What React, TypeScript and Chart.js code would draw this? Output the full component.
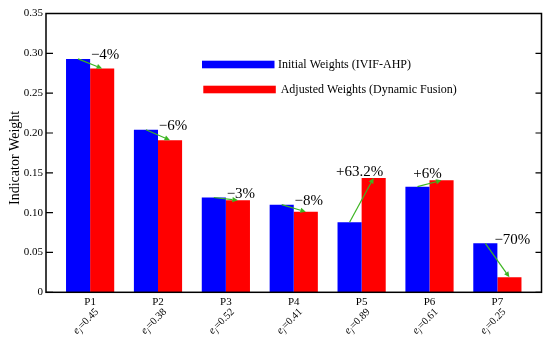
import React, { useEffect, useRef } from 'react';
import { Chart, registerables } from 'chart.js';

Chart.register(...registerables);

const CATEGORIES = ['P1', 'P2', 'P3', 'P4', 'P5', 'P6', 'P7'];
const ENTROPY = ['0.45', '0.38', '0.52', '0.41', '0.89', '0.61', '0.25'];
const INITIAL = [0.293, 0.204, 0.119, 0.11, 0.088, 0.1326, 0.0615];
const ADJUSTED = [0.281, 0.191, 0.1155, 0.101, 0.1435, 0.1406, 0.0188];
const CHANGE_LABELS = ['\u22124%', '\u22126%', '\u22123%', '\u22128%', '+63.2%', '+6%', '\u221270%'];
const Y_TICKS = [0, 0.05, 0.1, 0.15, 0.2, 0.25, 0.3, 0.35];
const SERIES_NAMES = ['Initial Weights (IVIF-AHP)', 'Adjusted Weights (Dynamic Fusion)'];
const SERIES_COLORS = ['#0000ff', '#ff0000'];
const Y_TITLE = 'Indicator Weight';

const SERIF = '"Liberation Serif", "Times New Roman", serif';
const ARROW = '#3cb521';

const overlay = {
  id: 'overlay',
  afterDatasetsDraw(chart: any) {
    const { ctx, chartArea: a, scales } = chart;
    const xs = scales.x;
    const m0 = chart.getDatasetMeta(0);
    const m1 = chart.getDatasetMeta(1);
    ctx.save();

    // frame
    ctx.strokeStyle = '#000';
    ctx.lineWidth = 1.5;
    ctx.strokeRect(a.left, a.top, a.right - a.left, a.bottom - a.top);
    // inward ticks on both sides
    ctx.lineWidth = 1.2;
    Y_TICKS.forEach((v) => {
      const py = scales.y.getPixelForValue(v);
      ctx.beginPath();
      ctx.moveTo(a.left, py);
      ctx.lineTo(a.left + 7, py);
      ctx.moveTo(a.right, py);
      ctx.lineTo(a.right - 6, py);
      ctx.stroke();
    });

    // arrows + change labels
    CATEGORIES.forEach((_, i) => {
      const b = m0.data[i];
      const r = m1.data[i];
      const x0 = b.x, y0 = b.y, x1 = r.x, y1 = r.y;
      ctx.strokeStyle = ARROW;
      ctx.fillStyle = ARROW;
      ctx.lineWidth = 1.2;
      const ang = Math.atan2(y1 - y0, x1 - x0);
      const hl = 5.5, hw = 2.6;
      const bx = x1 - hl * Math.cos(ang), by = y1 - hl * Math.sin(ang);
      ctx.beginPath();
      ctx.moveTo(x0, y0);
      ctx.lineTo(bx, by);
      ctx.stroke();
      ctx.beginPath();
      ctx.moveTo(x1, y1);
      ctx.lineTo(bx - hw * Math.sin(ang), by + hw * Math.cos(ang));
      ctx.lineTo(bx + hw * Math.sin(ang), by - hw * Math.cos(ang));
      ctx.closePath();
      ctx.fill();

      const up = ADJUSTED[i] > INITIAL[i];
      const top = Math.min(y0, y1);
      const gx = xs.getPixelForValue(i + 1);
      ctx.fillStyle = '#000';
      ctx.font = `15px ${SERIF}`;
      ctx.textAlign = 'center';
      ctx.textBaseline = 'alphabetic';
      ctx.fillText(CHANGE_LABELS[i], gx + (up ? -2 : 15), up ? top - 2 : top + 0.5);
    });
    ctx.restore();
  },
  afterDraw(chart: any) {
    const { ctx, chartArea: a, scales } = chart;
    const xs = scales.x;
    ctx.save();
    ctx.fillStyle = '#000';

    // x labels
    CATEGORIES.forEach((c, i) => {
      const gx = xs.getPixelForValue(i + 1);
      ctx.font = `11px ${SERIF}`;
      ctx.textAlign = 'center';
      ctx.textBaseline = 'alphabetic';
      ctx.fillText(c, gx, a.bottom + 12.7);

      ctx.save();
      ctx.translate(gx + 7, a.bottom + 18);
      ctx.rotate(-Math.PI / 4);
      const mainFont = `10.5px ${SERIF}`;
      const itFont = `italic 10.5px ${SERIF}`;
      const subFont = `italic 7.5px ${SERIF}`;
      const rest = '=' + ENTROPY[i];
      ctx.font = itFont;
      const we = ctx.measureText('e').width;
      ctx.font = subFont;
      const wj = ctx.measureText('j').width;
      ctx.font = mainFont;
      const wr = ctx.measureText(rest).width;
      let px = -(we + wj + wr + 0.5);
      ctx.textAlign = 'left';
      ctx.textBaseline = 'middle';
      ctx.font = itFont;
      ctx.fillText('e', px, 0);
      px += we;
      ctx.font = subFont;
      ctx.fillText('j', px, 3);
      px += wj + 0.5;
      ctx.font = mainFont;
      ctx.fillText(rest, px, 0);
      ctx.restore();
    });

    // y title
    ctx.save();
    ctx.translate(15.5, (a.top + a.bottom) / 2 + 5);
    ctx.rotate(-Math.PI / 2);
    ctx.font = `14px ${SERIF}`;
    ctx.textAlign = 'center';
    ctx.textBaseline = 'middle';
    ctx.fillText(Y_TITLE, 0, 0);
    ctx.restore();

    // legend
    const lx = a.left + 156;
    const rows = [a.top + 51, a.top + 76];
    chart.data.datasets.forEach((ds: any, k: number) => {
      const cy = rows[k];
      ctx.fillStyle = ds.backgroundColor;
      ctx.fillRect(lx + k * 1.3, cy - 3.8, 72.5, 7.6);
      ctx.fillStyle = '#000';
      ctx.font = `12px ${SERIF}`;
      ctx.textAlign = 'left';
      ctx.textBaseline = 'middle';
      ctx.fillText(ds.label, lx + 76 + k * 2.7, cy + 0.5);
    });
    ctx.restore();
  },
};

export default function App() {
  const ref = useRef<HTMLCanvasElement | null>(null);
  useEffect(() => {
    document.body.style.margin = '0';
    const canvas = ref.current;
    if (!canvas) return;
    const chart = new Chart(canvas, {
      type: 'bar',
      data: {
        datasets: [
          {
            label: SERIES_NAMES[0],
            data: INITIAL.map((v, i) => ({ x: i + 1, y: v })),
            backgroundColor: SERIES_COLORS[0],
            borderWidth: 0,
          },
          {
            label: SERIES_NAMES[1],
            data: ADJUSTED.map((v, i) => ({ x: i + 1, y: v })),
            backgroundColor: SERIES_COLORS[1],
            borderWidth: 0,
          },
        ],
      },
      options: {
        animation: false,
        responsive: false,
        devicePixelRatio: 1,
        categoryPercentage: 0.71,
        barPercentage: 1,
        layout: { padding: { left: 0, right: 8.5, top: 13.5, bottom: 52.7 } },
        plugins: { legend: { display: false }, tooltip: { enabled: false }, title: { display: false } },
        scales: {
          x: {
            type: 'linear',
            min: 0.35,
            max: 7.65,
            offset: false,
            display: false,
            afterBuildTicks: (s: any) => {
              s.ticks = CATEGORIES.map((_, i) => ({ value: i + 1 }));
            },
          },
          y: {
            type: 'linear',
            min: 0,
            max: 0.35,
            afterFit: (s: any) => {
              s.width = 46;
            },
            afterBuildTicks: (s: any) => {
              s.ticks = Y_TICKS.map((v) => ({ value: v }));
            },
            grid: { display: false, drawTicks: false },
            border: { display: false },
            ticks: {
              padding: 3,
              color: '#000',
              font: { family: SERIF, size: 11 },
              callback: (v: any) => (Number(v) === 0 ? '0' : Number(v).toFixed(2)),
            },
          },
        },
      } as any,
      plugins: [overlay],
    });
    return () => chart.destroy();
  }, []);
  return <canvas ref={ref} width={550} height={345} style={{ display: 'block' }} />;
}
